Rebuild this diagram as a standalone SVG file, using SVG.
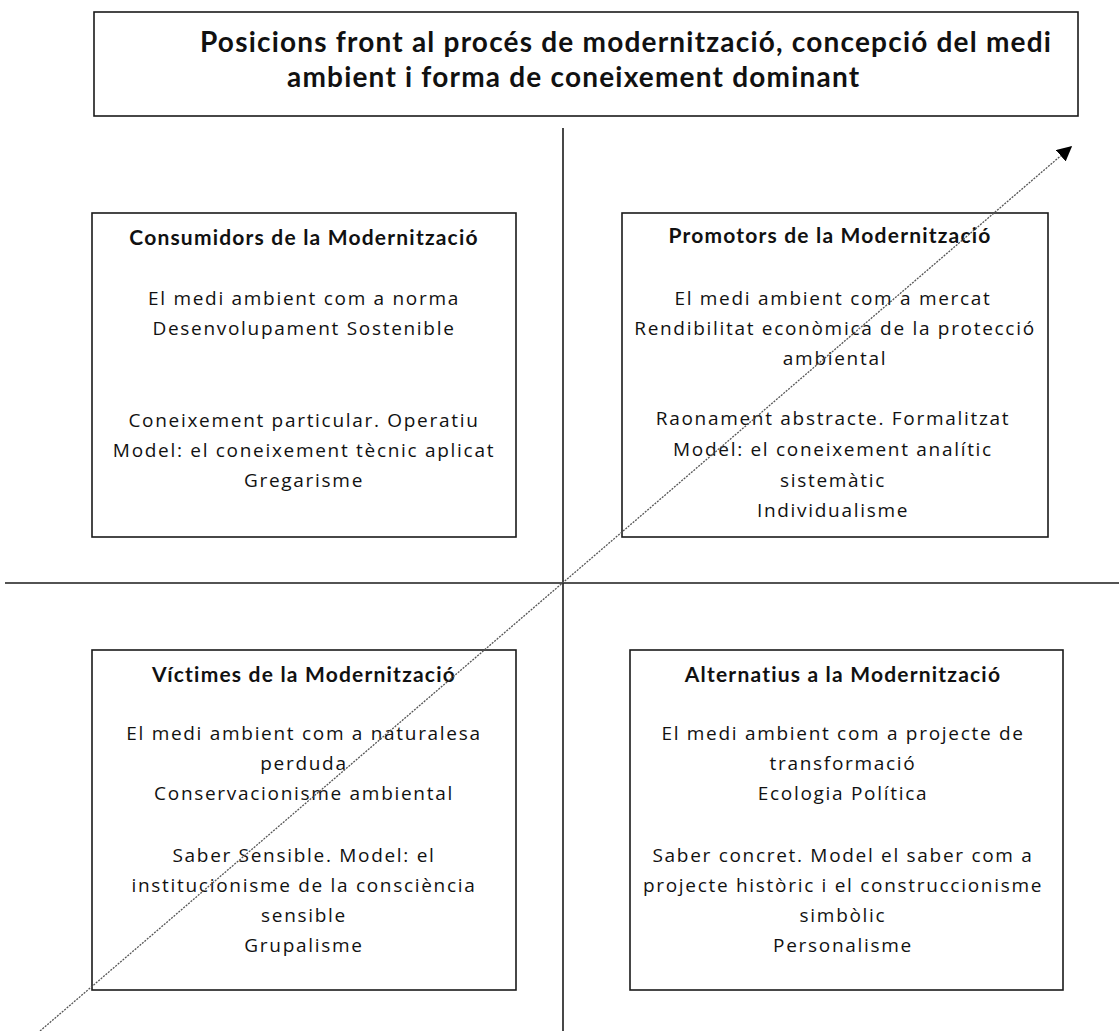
<svg xmlns="http://www.w3.org/2000/svg" width="1119" height="1031" viewBox="0 0 1119 1031">
<defs>
<style>
.box{fill:#fff;stroke:#1a1a1a;stroke-width:1.6}
.axis{stroke:#1a1a1a;stroke-width:1.6;fill:none}
.diag{stroke:#555;stroke-width:1.3;stroke-dasharray:2 1.2;fill:none}
.ttl{font-family:"Lato","Liberation Sans",sans-serif;font-weight:bold;font-size:28px;fill:#111;letter-spacing:1.2px}
.hd{font-family:"Lato","Liberation Sans",sans-serif;font-weight:bold;font-size:21px;fill:#111;text-anchor:middle;letter-spacing:1.2px}
.tx{font-family:"Open Sans","Liberation Sans",sans-serif;font-size:19px;fill:#111;text-anchor:middle;letter-spacing:1.7px}
</style>
<marker id="ah" viewBox="0 0 10 10" refX="9" refY="5" markerWidth="15" markerHeight="15" markerUnits="userSpaceOnUse" orient="auto">
<path d="M0,0 L10,5 L0,10 z" fill="#000"/>
</marker>
</defs>
<rect width="1119" height="1031" fill="#fff"/>
<g id="title">
<rect class="box" x="94" y="12" width="984" height="104"/>
<text class="ttl" x="200" y="52">Posicions front al procés de modernització, concepció del medi</text>
<text class="ttl" x="287" y="87">ambient i forma de coneixement dominant</text>
</g>
<g id="connectors">
<line class="axis" x1="563" y1="128" x2="563" y2="1031"/>
<line class="axis" x1="5" y1="583" x2="1119" y2="583"/>
</g>
<g id="consumidors">
<rect class="box" x="92" y="213" width="424" height="324"/>
<text class="hd" x="304" y="245">Consumidors de la Modernització</text>
<text class="tx" x="304" y="305">El medi ambient com a norma</text>
<text class="tx" x="304" y="335">Desenvolupament Sostenible</text>
<text class="tx" x="304" y="427">Coneixement particular. Operatiu</text>
<text class="tx" x="304" y="457">Model: el coneixement tècnic aplicat</text>
<text class="tx" x="304" y="487">Gregarisme</text>
</g>
<g id="promotors">
<rect class="box" x="622" y="213" width="426" height="324"/>
<text class="hd" x="830" y="243">Promotors de la Modernització</text>
<text class="tx" x="833" y="305">El medi ambient com a mercat</text>
<text class="tx" x="835" y="335">Rendibilitat econòmica de la protecció</text>
<text class="tx" x="835" y="365">ambiental</text>
<text class="tx" x="833" y="425">Raonament abstracte. Formalitzat</text>
<text class="tx" x="833" y="456">Model: el coneixement analític</text>
<text class="tx" x="833" y="487">sistemàtic</text>
<text class="tx" x="833" y="517">Individualisme</text>
</g>
<g id="victimes">
<rect class="box" x="92" y="650" width="424" height="340"/>
<text class="hd" x="304" y="682">Víctimes de la Modernització</text>
<text class="tx" x="304" y="740">El medi ambient com a naturalesa</text>
<text class="tx" x="304" y="770">perduda</text>
<text class="tx" x="304" y="800">Conservacionisme ambiental</text>
<text class="tx" x="304" y="862">Saber Sensible. Model: el</text>
<text class="tx" x="304" y="892">institucionisme de la consciència</text>
<text class="tx" x="304" y="922">sensible</text>
<text class="tx" x="304" y="952">Grupalisme</text>
</g>
<g id="alternatius">
<rect class="box" x="630" y="650" width="433" height="340"/>
<text class="hd" x="843" y="682">Alternatius a la Modernització</text>
<text class="tx" x="843" y="740">El medi ambient com a projecte de</text>
<text class="tx" x="843" y="770">transformació</text>
<text class="tx" x="843" y="800">Ecologia Política</text>
<text class="tx" x="843" y="862">Saber concret. Model el saber com a</text>
<text class="tx" x="843" y="892">projecte històric i el construccionisme</text>
<text class="tx" x="843" y="922">simbòlic</text>
<text class="tx" x="843" y="952">Personalisme</text>
</g>
<g id="arrow">
<line class="diag" x1="40" y1="1031" x2="1071" y2="147" marker-end="url(#ah)"/>
</g>
</svg>
